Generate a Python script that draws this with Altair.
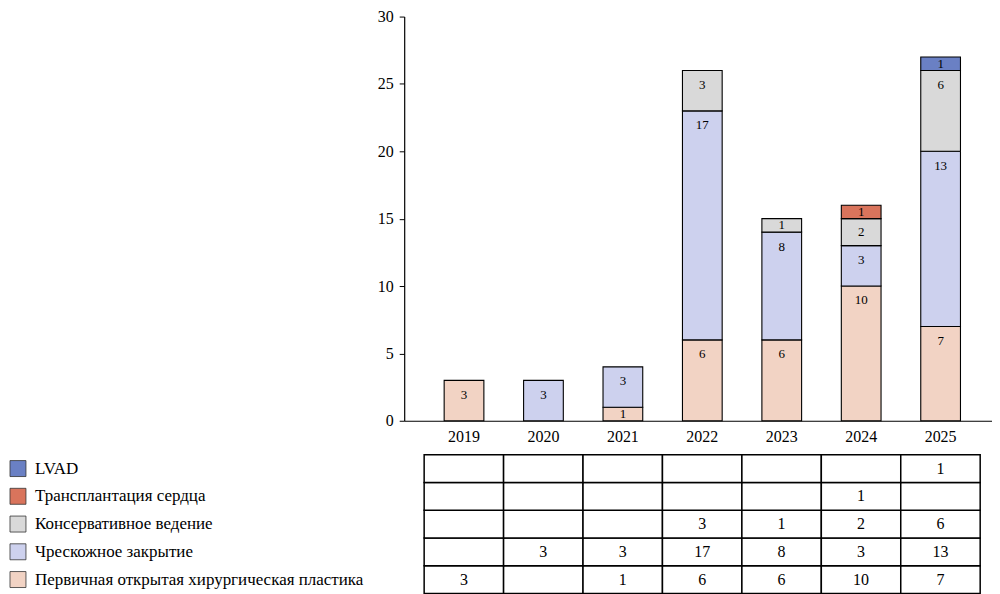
import altair as alt
import pandas as pd

years = ["2019", "2020", "2021", "2022", "2023", "2024", "2025"]
categories = [
    "Первичная открытая хирургическая пластика",
    "Чрескожное закрытие",
    "Консервативное ведение",
    "Трансплантация сердца",
    "LVAD",
]
colors = ["#F2D3C4", "#CDD1EE", "#D9D9D9", "#D9745C", "#6A80C4"]

primary = [3, 0, 1, 6, 6, 10, 7]
percutaneous = [0, 3, 3, 17, 8, 3, 13]
conservative = [0, 0, 0, 3, 1, 2, 6]
transplant = [0, 0, 0, 0, 0, 1, 0]
lvad = [0, 0, 0, 0, 0, 0, 1]
series = [primary, percutaneous, conservative, transplant, lvad]

rows = []
for yi, yr in enumerate(years):
    cum = 0
    for ci, cat in enumerate(categories):
        v = series[ci][yi]
        if v > 0:
            cum += v
            rows.append({"year": yr, "cat": cat, "order": ci, "value": v,
                         "label_y": cum - min(v / 2, 1.07)})
df = pd.DataFrame(rows)

SERIF = "Liberation Serif"
W = 589
color_scale = alt.Scale(domain=categories, range=colors)

x_top = alt.X("year:N", sort=years, title=None,
              scale=alt.Scale(domain=years, paddingInner=0.5, paddingOuter=0.45, align=0.559),
              axis=alt.Axis(labelAngle=0, ticks=False, labelPadding=8, domainColor="black",
                            domainWidth=1.2, labelFont=SERIF, labelFontSize=16, labelColor="black"))

bars = alt.Chart(df).mark_bar(stroke="black", strokeWidth=1.1).encode(
    x=x_top,
    y=alt.Y("value:Q", stack="zero", title=None,
            scale=alt.Scale(domain=[0, 30], nice=False),
            axis=alt.Axis(values=[0, 5, 10, 15, 20, 25, 30], grid=False, tickSize=5,
                          tickColor="black", domainColor="black", domainWidth=1.2,
                          labelFont=SERIF, labelFontSize=16, labelColor="black",
                          labelPadding=6)),
    color=alt.Color("cat:N", scale=color_scale, legend=None),
    order=alt.Order("order:Q"),
)
labels = alt.Chart(df).mark_text(font=SERIF, fontSize=13, color="black", baseline="middle").encode(
    x=alt.X("year:N", sort=years),
    y=alt.Y("label_y:Q"),
    text="value:Q",
)
top = alt.layer(bars, labels).properties(width=W, height=405)

# table
table_cats = categories[::-1]
cells = []
for ci, cat in enumerate(categories):
    for yi, yr in enumerate(years):
        v = series[ci][yi]
        cells.append({"year": yr, "cat": cat, "txt": str(v) if v > 0 else ""})
cdf = pd.DataFrame(cells)
leg = pd.DataFrame({"cat": categories})

x_bot = alt.X("year:N", sort=years, title=None,
              scale=alt.Scale(domain=years, paddingInner=0, paddingOuter=0.2, align=0.628),
              axis=None)
y_bot = alt.Y("cat:N", sort=table_cats, title=None,
              scale=alt.Scale(domain=table_cats, paddingInner=0, paddingOuter=0), axis=None)

rects = alt.Chart(cdf).mark_rect(fill="white", stroke="black", strokeWidth=1.5).encode(x=x_bot, y=y_bot)
ctext = alt.Chart(cdf).mark_text(font=SERIF, fontSize=16, color="black", baseline="middle").encode(
    x=x_bot, y=y_bot, text="txt:N")
sw = alt.Chart(leg).mark_square(size=256, stroke="#333", strokeWidth=0.8, opacity=1).encode(
    x=alt.value(-387), y=y_bot,
    fill=alt.Fill("cat:N", scale=color_scale, legend=None))
lt = alt.Chart(leg).mark_text(font=SERIF, fontSize=17, color="black", align="left",
                               baseline="middle").encode(
    x=alt.value(-370), y=y_bot, text="cat:N")
bottom = alt.layer(rects, ctext, sw, lt).properties(width=W, height=139)

chart = alt.vconcat(top, bottom, spacing=9).resolve_scale(
    x="independent", y="independent"
).properties(padding=0, background="white").configure_view(stroke=None)

chart.save("out.html", embed_options={"renderer": "svg", "actions": False})
